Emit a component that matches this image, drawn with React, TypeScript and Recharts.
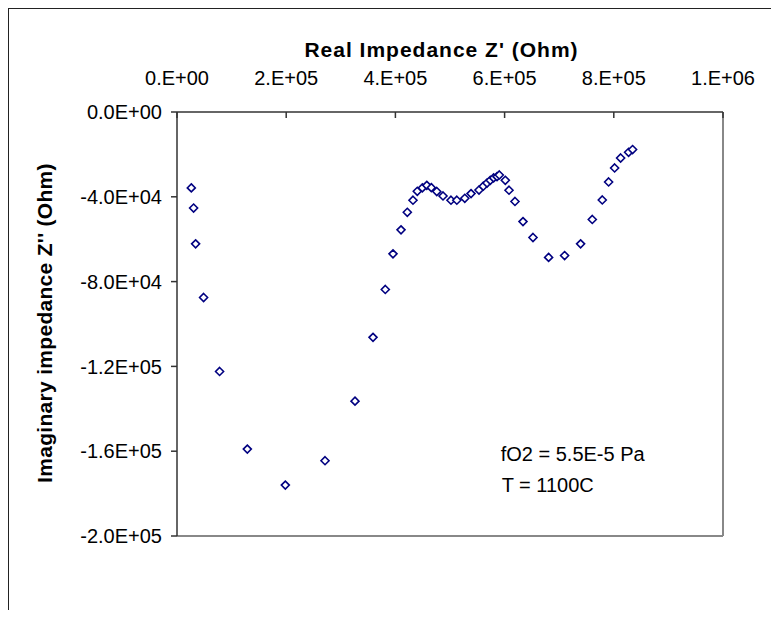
import { ScatterChart, Scatter, XAxis, YAxis, ReferenceLine } from "recharts";

// Nyquist plot, impedance in Ohm
const realZ = [
  26200, 30400, 34100, 48700, 78000, 128800, 198400, 271100, 326000, 359000,
  381500, 395600, 410300, 421800, 432200, 440100, 449300, 457500, 465800, 475800,
  487200, 501800, 512500, 527100, 538500, 553100, 561000, 567800, 573800, 579900,
  586100, 590300, 601300, 608100, 619000, 633700, 652000, 680600, 709900, 739200,
  760600, 778900, 790500, 801500, 812500, 827100, 834400,
];
const imagZ = [
  -35800, -45300, -62200, -87500, -122400, -159000, -176000, -164500, -136400, -106300,
  -83700, -66900, -55600, -47300, -41600, -37400, -35800, -34600, -35700, -37500,
  -39600, -41600, -41600, -40700, -38500, -36800, -35000, -33500, -32200, -31100,
  -30500, -29700, -32200, -36900, -42200, -51700, -59200, -68600, -67700, -62200,
  -50700, -41500, -33000, -26400, -21700, -19000, -17700,
];
const xTicks = [0, 200000, 400000, 600000, 800000, 1000000];
const yTicks = [0, -40000, -80000, -120000, -160000, -200000];
const notes = ["fO2 = 5.5E-5 Pa", "T = 1100C"];

const data = realZ.map((x, i) => ({ x, y: imagZ[i] }));

const FONT = "'Liberation Sans', Arial, sans-serif";

// Excel-style scientific format: 0.E+00 / 0.0E+00
function sci(v: number, digits: number) {
  if (v === 0) return (digits ? (0).toFixed(digits) : "0.") + "E+00";
  const sign = v < 0 ? "-" : "";
  let exp = Math.floor(Math.log10(Math.abs(v)));
  let m = Math.abs(v) / Math.pow(10, exp);
  if (Number(m.toFixed(digits)) >= 10) {
    exp += 1;
    m = m / 10;
  }
  const ms = digits ? m.toFixed(digits) : m.toFixed(0) + ".";
  return `${sign}${ms}E${exp < 0 ? "-" : "+"}${String(Math.abs(exp)).padStart(2, "0")}`;
}

const XTick = (props: any) => {
  const { x, y, payload } = props;
  return (
    <g>
      <line x1={x} x2={x} y1={y + 27} y2={y + 33} stroke="#333" strokeWidth={1.5} />
      <text x={x} y={y} textAnchor="middle" fontSize={20} fill="#000" fontFamily={FONT}>
        {sci(payload.value, 0)}
      </text>
    </g>
  );
};

const Diamond = (props: any) => {
  const { cx, cy } = props;
  if (cx == null || cy == null) return <g />;
  return (
    <path
      d={`M${cx},${cy - 4}L${cx + 4},${cy}L${cx},${cy + 4}L${cx - 4},${cy}Z`}
      fill="#fff"
      stroke="#000080"
      strokeWidth={1.6}
    />
  );
};

export default function App() {
  return (
    <div
      style={{
        width: 766,
        height: 601,
        borderTop: "1px solid #222",
        borderLeft: "1px solid #222",
        borderRight: "1px solid #222",
        background: "#fff",
        fontFamily: FONT,
      }}
    >
      <ScatterChart
        width={766}
        height={601}
        margin={{ top: 73, right: 52, bottom: 74, left: 68 }}
      >
        <XAxis
          type="number"
          dataKey="x"
          orientation="top"
          domain={[0, 1000000]}
          ticks={xTicks}
          interval={0}
          height={30}
          tickSize={0}
          tickMargin={27}
          tickLine={false}
          tick={<XTick />}
          axisLine={{ stroke: "#333", strokeWidth: 1.5 }}
        />
        <YAxis
          type="number"
          dataKey="y"
          domain={[-200000, 0]}
          ticks={yTicks}
          interval={0}
          width={100}
          tickSize={6}
          tickMargin={9}
          tickFormatter={(v: number) => sci(v, 1)}
          tick={{ fontSize: 20, fill: "#000", fontFamily: FONT }}
          tickLine={{ stroke: "#333", strokeWidth: 1.5 }}
          axisLine={{ stroke: "#333", strokeWidth: 1.5 }}
        />
        <ReferenceLine x={1000000} stroke="#888" strokeWidth={2} />
        <ReferenceLine y={-200000} stroke="#888" strokeWidth={2} />
        <Scatter data={data} shape={<Diamond />} isAnimationActive={false} />
        <text
          x={432.5}
          y={47.7}
          textAnchor="middle"
          fontSize={21}
          fontWeight="bold"
          letterSpacing={1}
          fontFamily={FONT}
          fill="#000"
        >
          Real Impedance Z' (Ohm)
        </text>
        <text
          x={0}
          y={0}
          transform="translate(43,314) rotate(-90)"
          textAnchor="middle"
          fontSize={21}
          fontWeight="bold"
          letterSpacing={0.3}
          fontFamily={FONT}
          fill="#000"
        >
          Imaginary impedance Z'' (Ohm)
        </text>
        {notes.map((t, i) => (
          <text key={t} x={491.7 + i} y={451.7 + i * 31} fontSize={20} fontFamily={FONT} fill="#000">
            {t}
          </text>
        ))}
      </ScatterChart>
    </div>
  );
}
